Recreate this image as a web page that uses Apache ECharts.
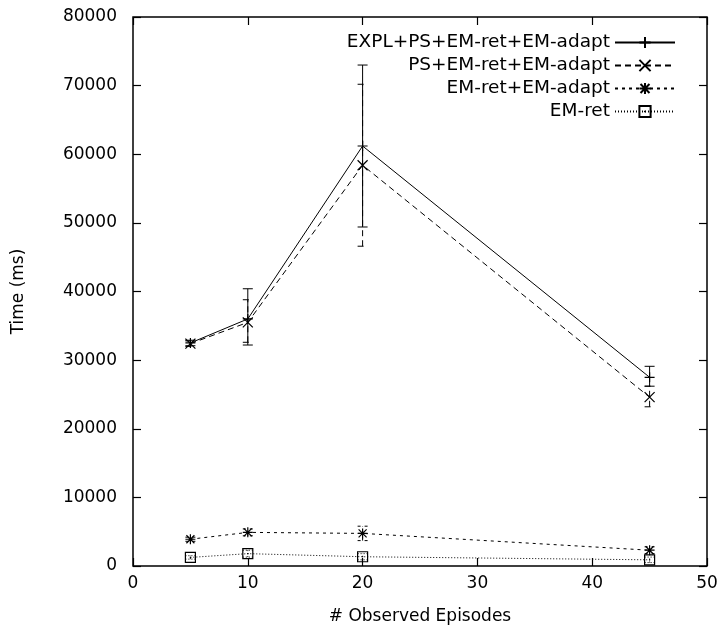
<!DOCTYPE html>
<html><head><meta charset="utf-8">
<script src="https://cdn.jsdelivr.net/npm/echarts@6/dist/echarts.min.js"></script>
<style>html,body{margin:0;padding:0;background:#fff}#c{width:720px;height:633px}</style>
</head><body><div id="c"></div>
<script>
const xs = [5, 10, 20, 45];
const names = ['EXPL+PS+EM-ret+EM-adapt', 'PS+EM-ret+EM-adapt', 'EM-ret+EM-adapt', 'EM-ret'];
const s1 = [32500, 36000, 61200, 27500];
const s1Lo = [32100, 32200, 49400, 26200];
const s1Hi = [32900, 40400, 73000, 29100];
const s2 = [32400, 35500, 58400, 24600];
const s2Lo = [32000, 32600, 46600, 23200];
const s2Hi = [32800, 38800, 70200, 26200];
const s3 = [3900, 4900, 4750, 2300];
const s3Lo = [3600, 4400, 3700, 1800];
const s3Hi = [4200, 5400, 5800, 2800];
const s4 = [1250, 1800, 1350, 900];
const s4Lo = [1000, 1300, 900, 500];
const s4Hi = [1500, 2300, 1800, 1300];

const FONT = 'DejaVu Sans';
const FS = 17;
const sym = [
  'path://M5,0L5,10M0,5L10,5',
  'path://M0,0L10,10M10,0L0,10',
  'path://M5,0L5,10M0,5L10,5M1,1L9,9M9,1L1,9',
  'path://M0,0L10,0L10,10L0,10Z M5,4.4L5,5.6'
];
const dashes = ['solid', [6, 4], [3, 4], [1, 2]];
const vals = [s1, s2, s3, s4], los = [s1Lo, s2Lo, s3Lo, s4Lo], his = [s1Hi, s2Hi, s3Hi, s4Hi];

const series = [];
vals.forEach((v, i) => {
  series.push({
    name: names[i], type: 'line', data: xs.map((x, k) => [x, v[k]]),
    symbol: sym[i], symbolSize: 10, showSymbol: true,
    lineStyle: { color: '#000', width: 1, type: dashes[i] },
    itemStyle: { color: 'transparent', borderColor: '#000', borderWidth: 1.2 },
    emphasis: { disabled: true }, z: 3
  });
  series.push({
    type: 'custom', data: xs.map((x, k) => [x, los[i][k], his[i][k]]),
    renderItem: (params, api) => {
      const lo = api.coord([api.value(0), api.value(1)]);
      const hi = api.coord([api.value(0), api.value(2)]);
      const st = { stroke: '#000', lineWidth: 1, lineDash: dashes[i] === 'solid' ? null : dashes[i] };
      const w = 5;
      return { type: 'group', children: [
        { type: 'line', shape: { x1: lo[0], y1: lo[1], x2: hi[0], y2: hi[1] }, style: st },
        { type: 'line', shape: { x1: lo[0] - w, y1: lo[1], x2: lo[0] + w, y2: lo[1] }, style: st },
        { type: 'line', shape: { x1: hi[0] - w, y1: hi[1], x2: hi[0] + w, y2: hi[1] }, style: st }
      ]};
    },
    silent: true, z: 2
  });
});

const axisCommon = {
  axisLine: { show: false, onZero: false },
  axisTick: { inside: true, length: 8, lineStyle: { color: '#000', width: 1.2 } },
  splitLine: { show: false }
};
const fmt = v => String(v);

const chart = echarts.init(document.getElementById('c'), null, { renderer: 'canvas' });
chart.setOption({
  animation: false,
  backgroundColor: '#fff',
  grid: { left: 133, right: 13, top: 17, bottom: 67, show: true, borderColor: '#000', borderWidth: 1.5,
    containLabel: false, outerBoundsMode: 'none' },
  xAxis: [
    Object.assign({ type: 'value', min: 0, max: 50, interval: 10, position: 'bottom',
      name: '# Observed Episodes', nameLocation: 'middle', nameGap: 42,
      nameTextStyle: { fontFamily: FONT, fontSize: FS, color: '#000' },
      axisLabel: { fontFamily: FONT, fontSize: FS, color: '#000', margin: 9, formatter: fmt } }, axisCommon),
    Object.assign({ type: 'value', min: 0, max: 50, interval: 10, position: 'top', axisLabel: { show: false } }, axisCommon)
  ],
  yAxis: [
    Object.assign({ type: 'value', min: 0, max: 80000, interval: 10000, position: 'left',
      name: 'Time (ms)', nameLocation: 'middle', nameGap: 106, nameRotate: 90,
      nameTextStyle: { fontFamily: FONT, fontSize: FS, color: '#000' },
      axisLabel: { fontFamily: FONT, fontSize: FS, color: '#000', margin: 16, formatter: fmt } }, axisCommon),
    Object.assign({ type: 'value', min: 0, max: 80000, interval: 10000, position: 'right', axisLabel: { show: false } }, axisCommon)
  ],
  legend: {
    data: names,
    orient: 'vertical', right: 39, top: 28, align: 'right',
    itemWidth: 60, itemHeight: 14, itemGap: 4, selectedMode: false,
    textStyle: { fontFamily: FONT, fontSize: 18.5, color: '#000', width: 290, align: 'right', lineHeight: 18 }
  },
  series: series
});
</script></body></html>
